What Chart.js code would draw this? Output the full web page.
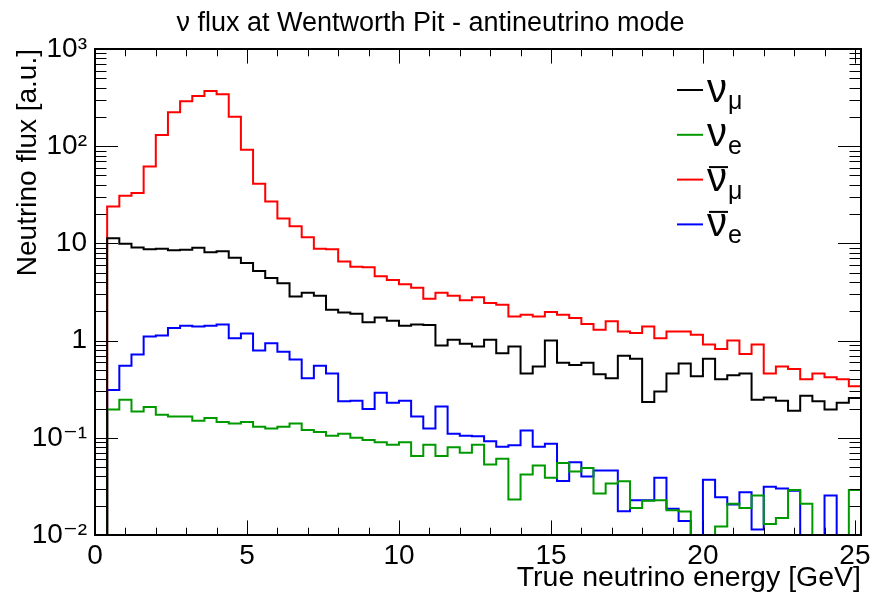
<!DOCTYPE html>
<html>
<head>
<meta charset="utf-8">
<script src="https://cdn.jsdelivr.net/npm/chart.js@4.4.1/dist/chart.umd.min.js"></script>
<style>
  html, body { margin: 0; padding: 0; background: #fff; }
</style>
</head>
<body>
<canvas id="my-chart" width="872" height="598"></canvas>
<script>
// histogram binning: 63 bins of 0.4 GeV from 0 to 25.2
const binWidth = 0.4;
const nBins = 63;

const chartTitle = 'ν flux at Wentworth Pit - antineutrino mode';
const xTitle = 'True neutrino energy [GeV]';
const yTitle = 'Neutrino flux [a.u.]';

const xTickValues = [0, 5, 10, 15, 20, 25];
const yTickValues = [0.01, 0.1, 1, 10, 100, 1000];
const yTickLabels = ['10⁻²', '10⁻¹', '1', '10', '10²', '10³'];

// legend text pieces: nu + subscript, with a bar for the anti-neutrinos
const seriesNames = ['numu', 'nue', 'numubar', 'nuebar'];
const legendSub = ['μ', 'e', 'μ', 'e'];
const legendBar = [false, false, true, true];
const seriesColors = ['#000000', '#009900', '#ff0000', '#0000ff'];

// bin contents (0 = empty bin)
const numu = [0, 11.3, 9.9, 9.1, 8.7, 8.8, 8.5, 8.6, 9.0, 8.1,
  8.3, 7.1, 6.3, 5.2, 4.4, 3.9, 2.84, 3.1, 2.9, 2.08,
  1.95, 1.89, 1.54, 1.73, 1.6, 1.42, 1.46, 1.45, 0.89, 1.02,
  0.93, 0.87, 1.02, 0.74, 0.87, 0.46, 0.54, 1.0, 0.59, 0.56,
  0.59, 0.45, 0.41, 0.70, 0.65, 0.234, 0.30, 0.46, 0.58, 0.43,
  0.65, 0.40, 0.44, 0.46, 0.247, 0.26, 0.24, 0.19, 0.27, 0.237,
  0.195, 0.23, 0.257];

const nue = [0, 0.195, 0.247, 0.187, 0.207, 0.173, 0.166, 0.166, 0.15, 0.16,
  0.145, 0.14, 0.145, 0.13, 0.125, 0.13, 0.14, 0.12, 0.115, 0.105,
  0.11, 0.1, 0.095, 0.09, 0.085, 0.09, 0.065, 0.085, 0.065, 0.08,
  0.07, 0.085, 0.053, 0.061, 0.0232, 0.042, 0.052, 0.0387, 0.055, 0.045,
  0.049, 0.0267, 0.0338, 0.0357, 0.019, 0.0225, 0.0228, 0.018, 0.0175, 0,
  0, 0.0122, 0.021, 0.019, 0.0255, 0.013, 0.015, 0.029, 0.021, 0,
  0, 0, 0.029];

const numubar = [0, 24, 31, 33, 62, 130, 223, 290, 329, 370,
  342, 201, 92, 41, 27, 18, 15.0, 11.6, 8.8, 8.7,
  6.5, 5.75, 5.7, 4.6, 4.2, 3.8, 3.5, 2.7, 3.1, 2.9,
  2.6, 2.8, 2.43, 2.34, 1.77, 1.85, 1.77, 1.97, 1.85, 1.71,
  1.48, 1.29, 1.58, 1.24, 1.20, 1.40, 1.06, 1.24, 1.24, 1.15,
  0.91, 0.82, 1.0, 0.73, 0.91, 0.46, 0.54, 0.51, 0.40, 0.46,
  0.42, 0.40, 0.34];

const nuebar = [0, 0.31, 0.55, 0.72, 1.10, 1.13, 1.35, 1.42, 1.40, 1.42,
  1.46, 1.06, 1.18, 0.79, 0.94, 0.77, 0.64, 0.41, 0.55, 0.46,
  0.237, 0.24, 0.198, 0.29, 0.23, 0.24, 0.166, 0.125, 0.21, 0.11,
  0.105, 0.104, 0.092, 0.081, 0.084, 0.119, 0.081, 0.087, 0.036, 0.056,
  0.040, 0.046, 0.046, 0.0176, 0.0228, 0.0228, 0.0387, 0.0186, 0.0139, 0,
  0.037, 0.0245, 0.0206, 0.0276, 0.0114, 0.0313, 0.030, 0.0286, 0, 0,
  0.0255, 0, 0];

const FONT = "'Liberation Sans', Arial, 'DejaVu Sans', sans-serif";
const xMax = binWidth * nBins;

// step-histogram points: one point per left bin edge + closing point at the right edge
function histPoints(values) {
  const pts = values.map((v, i) => ({ x: i * binWidth, y: v > 0 ? v : 1e-4 }));
  pts.push({ x: xMax, y: pts[pts.length - 1].y });
  return pts;
}

const allSeries = [numu, nue, numubar, nuebar];

// frame + inward ticks on all four sides, ROOT style
const rootFrame = {
  id: 'rootFrame',
  afterDatasetsDraw(chart) {
    const { ctx, chartArea: a, scales: { x, y } } = chart;
    const h = a.bottom - a.top, w = a.right - a.left;
    ctx.save();
    ctx.strokeStyle = '#000';
    ctx.lineWidth = 1;
    ctx.beginPath();
    for (let v = 0; v <= 25; v++) {
      const px = Math.round(x.getPixelForValue(v)) + 0.5;
      const len = v % 5 === 0 ? 0.03 * h : 0.015 * h;
      ctx.moveTo(px, a.bottom); ctx.lineTo(px, a.bottom - len);
      ctx.moveTo(px, a.top); ctx.lineTo(px, a.top + len);
    }
    yTickValues.forEach((dec, k) => {
      if (k === yTickValues.length - 1) return;
      for (let m = 1; m < 10; m++) {
        const py = Math.round(y.getPixelForValue(dec * m)) + 0.5;
        const len = m === 1 ? 0.03 * w : 0.015 * w;
        ctx.moveTo(a.left, py); ctx.lineTo(a.left + len, py);
        ctx.moveTo(a.right, py); ctx.lineTo(a.right - len, py);
      }
    });
    ctx.stroke();
    ctx.lineWidth = 2;
    ctx.strokeRect(a.left, a.top, w, h);
    ctx.restore();
  }
};

const rootLegend = {
  id: 'rootLegend',
  afterDraw(chart) {
    const ctx = chart.ctx;
    ctx.save();
    seriesNames.forEach((name, i) => {
      const ly = 90 + i * 44.8;
      ctx.strokeStyle = seriesColors[i];
      ctx.lineWidth = 2;
      ctx.beginPath();
      ctx.moveTo(677, ly); ctx.lineTo(703, ly);
      ctx.stroke();
      ctx.fillStyle = '#000';
      ctx.textBaseline = 'alphabetic';
      ctx.textAlign = 'left';
      ctx.font = '40px ' + FONT;
      ctx.fillText('ν', 707, ly + 11.5);
      if (legendBar[i]) {
        ctx.strokeStyle = '#000';
        ctx.lineWidth = 2;
        ctx.beginPath();
        ctx.moveTo(709, ly - 12.5); ctx.lineTo(728, ly - 12.5);
        ctx.stroke();
      }
      ctx.font = '25px ' + FONT;
      ctx.fillText(legendSub[i], 728, ly + 19);
    });
    ctx.restore();
  }
};

const ctx = document.getElementById('my-chart').getContext('2d');
new Chart(ctx, {
  type: 'line',
  data: {
    datasets: allSeries.map((vals, i) => ({
      label: seriesNames[i],
      data: histPoints(vals),
      borderColor: seriesColors[i],
      backgroundColor: seriesColors[i],
      borderWidth: 2,
      pointRadius: 0,
      stepped: 'before',
      fill: false,
      order: i
    }))
  },
  options: {
    responsive: false,
    animation: false,
    devicePixelRatio: 1,
    layout: { padding: { left: 0, right: 11, top: 0, bottom: 0 } },
    plugins: {
      legend: { display: false },
      tooltip: { enabled: false },
      title: {
        display: true,
        text: chartTitle,
        color: '#000',
        font: { family: FONT, size: 27, weight: 'normal' },
        padding: { top: 7, bottom: 9.6 }
      }
    },
    scales: {
      x: {
        type: 'linear',
        min: 0,
        max: xMax,
        grid: { display: false, drawTicks: false },
        border: { display: false },
        afterBuildTicks: s => { s.ticks = xTickValues.map(v => ({ value: v })); },
        afterFit: s => { s.height = 63; s.paddingLeft = 0; s.paddingRight = 0; },
        ticks: {
          color: '#000',
          padding: 4,
          maxRotation: 0,
          font: { family: FONT, size: 28 },
          callback: v => String(v)
        },
        title: {
          display: true,
          text: xTitle,
          align: 'end',
          color: '#000',
          font: { family: FONT, size: 28.5 },
          padding: { top: 0, bottom: 3 }
        }
      },
      y: {
        type: 'logarithmic',
        min: 0.01,
        max: 1000,
        grid: { display: false, drawTicks: false },
        border: { display: false },
        afterBuildTicks: s => { s.ticks = yTickValues.map(v => ({ value: v })); },
        afterFit: s => { s.width = 95; s.paddingTop = 0; s.paddingBottom = 0; },
        ticks: {
          color: '#000',
          padding: 8,
          font: { family: FONT, size: 28 },
          callback: (v, i) => yTickLabels[i]
        },
        title: {
          display: true,
          text: yTitle,
          align: 'end',
          color: '#000',
          font: { family: FONT, size: 28 },
          padding: { top: 11, bottom: 0 }
        }
      }
    }
  },
  plugins: [rootFrame, rootLegend]
});
</script>
</body>
</html>
